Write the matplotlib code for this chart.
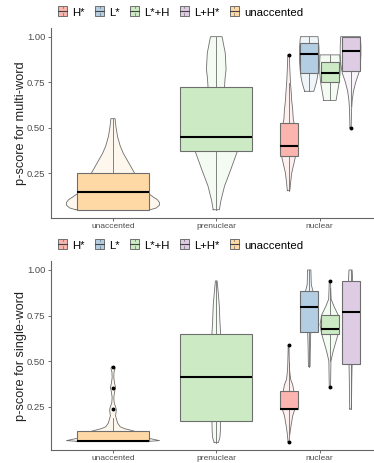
import matplotlib
matplotlib.use("Agg")
import matplotlib.pyplot as plt
from matplotlib.legend_handler import HandlerBase
from matplotlib.patches import Rectangle
from matplotlib.lines import Line2D
import numpy as np

plt.rcParams['font.family'] = ['Liberation Sans', 'DejaVu Sans']

# accent groups and their fills (pastel palette)
groups = ["H*", "L*", "L*+H", "L+H*", "unaccented"]
colors = ["#FBB4AE", "#B3CDE3", "#CCEBC5", "#DECBE4", "#FED9A6"]
categories = ["unaccented", "prenuclear", "nuclear"]
yticks = [0.25, 0.50, 0.75, 1.00]

# ---- multi-word panel ----
multi_cat = ["unaccented", "prenuclear", "nuclear", "nuclear", "nuclear", "nuclear"]
multi_grp = ["unaccented", "L*+H", "H*", "L*", "L*+H", "L+H*"]
multi_q1 = [0.05, 0.375, 0.345, 0.802, 0.753, 0.813]
multi_med = [0.15, 0.452, 0.400, 0.903, 0.802, 0.923]
multi_q3 = [0.25, 0.725, 0.524, 0.963, 0.860, 1.000]
multi_wlo = [0.05, 0.05, 0.155, 0.70, 0.65, 0.62]
multi_whi = [0.55, 1.00, 0.745, 1.00, 0.90, 1.00]
multi_fliers = [[], [], [0.90], [], [], [0.50]]
multi_vio_y = [
    [0.05, 0.06, 0.075, 0.09, 0.105, 0.12, 0.14, 0.16, 0.19, 0.22, 0.25, 0.28, 0.32, 0.36, 0.40, 0.45, 0.50, 0.55],
    [0.05, 0.10, 0.18, 0.27, 0.38, 0.45, 0.55, 0.65, 0.725, 0.77, 0.82, 0.91, 1.00],
    [0.155, 0.20, 0.25, 0.30, 0.35, 0.40, 0.45, 0.50, 0.55, 0.60, 0.65, 0.70, 0.75, 0.80, 0.85, 0.90],
    [0.70, 0.72, 0.75, 0.78, 0.82, 0.86, 0.90, 0.94, 0.97, 1.00],
    [0.65, 0.70, 0.75, 0.80, 0.85, 0.90],
    [0.50, 0.55, 0.60, 0.65, 0.70, 0.75, 0.80, 0.85, 0.90, 0.95, 1.00],
]
multi_vio_w = [
    [0.36, 0.42, 0.45, 0.45, 0.43, 0.39, 0.34, 0.30, 0.26, 0.23, 0.21, 0.18, 0.14, 0.10, 0.07, 0.045, 0.03, 0.02],
    [0.03, 0.045, 0.08, 0.14, 0.21, 0.24, 0.20, 0.13, 0.08, 0.085, 0.095, 0.087, 0.056],
    [0.012, 0.02, 0.03, 0.05, 0.07, 0.08, 0.075, 0.06, 0.045, 0.04, 0.03, 0.025, 0.018, 0.014, 0.01, 0.008],
    [0.044, 0.055, 0.07, 0.08, 0.088, 0.093, 0.095, 0.094, 0.09, 0.085],
    [0.06, 0.075, 0.09, 0.098, 0.10, 0.095],
    [0.006, 0.008, 0.01, 0.016, 0.028, 0.05, 0.08, 0.095, 0.10, 0.10, 0.095],
]

# ---- single-word panel ----
single_cat = ["unaccented", "prenuclear", "nuclear", "nuclear", "nuclear", "nuclear"]
single_grp = ["unaccented", "L*+H", "H*", "L*", "L*+H", "L+H*"]
single_q1 = [0.06, 0.173, 0.235, 0.661, 0.649, 0.484]
single_med = [0.06, 0.415, 0.235, 0.799, 0.676, 0.768]
single_q3 = [0.115, 0.649, 0.338, 0.886, 0.753, 0.941]
single_wlo = [0.06, 0.053, 0.10, 0.47, 0.50, 0.237]
single_whi = [0.19, 0.941, 0.49, 1.00, 0.90, 1.00]
single_fliers = [[0.235, 0.355, 0.47], [], [0.056, 0.588], [], [0.356, 0.941], []]
single_vio_y = [
    [0.06, 0.064, 0.07, 0.08, 0.095, 0.115, 0.12, 0.13, 0.14, 0.16, 0.18, 0.20, 0.22, 0.235, 0.25, 0.27, 0.30, 0.33, 0.355, 0.38, 0.41, 0.44, 0.46, 0.47],
    [0.053, 0.08, 0.12, 0.17, 0.25, 0.35, 0.45, 0.55, 0.65, 0.72, 0.80, 0.87, 0.94],
    [0.056, 0.10, 0.15, 0.20, 0.235, 0.27, 0.30, 0.34, 0.37, 0.40, 0.45, 0.50, 0.55, 0.588],
    [0.47, 0.55, 0.60, 0.66, 0.70, 0.80, 0.886, 0.92, 0.96, 1.00],
    [0.356, 0.42, 0.50, 0.55, 0.60, 0.649, 0.70, 0.753, 0.80, 0.84, 0.90, 0.941],
    [0.237, 0.30, 0.40, 0.484, 0.60, 0.77, 0.94, 0.97, 1.00],
]
single_vio_w = [
    [0.35, 0.45, 0.40, 0.32, 0.26, 0.21, 0.18, 0.11, 0.07, 0.045, 0.035, 0.025, 0.03, 0.032, 0.025, 0.012, 0.008, 0.015, 0.025, 0.015, 0.008, 0.01, 0.02, 0.012],
    [0.02, 0.035, 0.04, 0.042, 0.05, 0.055, 0.055, 0.05, 0.042, 0.035, 0.03, 0.02, 0.008],
    [0.005, 0.012, 0.025, 0.04, 0.06, 0.055, 0.045, 0.05, 0.04, 0.02, 0.01, 0.007, 0.005, 0.004],
    [0.008, 0.01, 0.012, 0.015, 0.03, 0.04, 0.035, 0.02, 0.018, 0.016],
    [0.006, 0.008, 0.01, 0.03, 0.055, 0.08, 0.095, 0.08, 0.04, 0.012, 0.008, 0.006],
    [0.008, 0.01, 0.012, 0.015, 0.02, 0.03, 0.02, 0.018, 0.015],
]

EDGE = "#6E6E6E"


class HandlerKey(HandlerBase):
    def create_artists(self, legend, orig, xd, yd, w, h, fs, trans):
        c = orig.get_facecolor()
        r = Rectangle((xd + 1, yd), w - 2, h, facecolor=c, edgecolor=EDGE, lw=0.7, transform=trans)
        m = Line2D([xd + 1, xd + w - 1], [yd + h / 2] * 2, color="#444444", lw=0.8, transform=trans)
        v1 = Line2D([xd + w / 2] * 2, [yd, yd + h * 0.25], color=EDGE, lw=0.5, transform=trans)
        v2 = Line2D([xd + w / 2] * 2, [yd + h * 0.75, yd + h], color=EDGE, lw=0.5, transform=trans)
        return [r, m, v1, v2]


def draw_panel(ax, cat, grp, q1, med, q3, wlo, whi, fliers, vy, vw, ylim, ylabel):
    nuc = [g for g in groups if g != "unaccented"]
    for i in range(len(cat)):
        base = categories.index(cat[i]) + 1
        if cat[i] == "nuclear":
            pos = base - 0.3 + 0.2 * nuc.index(grp[i])
            bw = 0.175
        else:
            pos = base
            bw = 0.7
        col = colors[groups.index(grp[i])]
        y = np.array(vy[i])
        w = np.array(vw[i])
        ax.fill_betweenx(y, pos - w, pos + w, facecolor=col, alpha=0.2, lw=0, zorder=1)
        ax.plot(np.r_[pos - w, (pos + w)[::-1], pos - w[0]], np.r_[y, y[::-1], y[0]],
                color=EDGE, lw=0.6, zorder=2)
        stats = [dict(q1=q1[i], med=med[i], q3=q3[i], whislo=wlo[i], whishi=whi[i], fliers=fliers[i])]
        ax.bxp(stats, positions=[pos], widths=bw, patch_artist=True, showcaps=False,
               boxprops=dict(facecolor=col, edgecolor=EDGE, lw=0.8),
               medianprops=dict(color="black", lw=1.5),
               whiskerprops=dict(color=EDGE, lw=0.6),
               flierprops=dict(marker="o", markersize=1.8, markerfacecolor="black",
                               markeredgecolor="black"),
               manage_ticks=False, zorder=3)
    ax.set_xlim(0.4, 3.527)
    ax.set_ylim(*ylim)
    ax.set_xticks([1, 2, 3])
    ax.set_xticklabels(categories, fontsize=6.0, color="#4D4D4D")
    ax.set_yticks(yticks)
    ax.set_yticklabels([f"{t:.2f}" for t in yticks], fontsize=6.8, color="#4D4D4D")
    ax.tick_params(length=2.5, width=0.6, color="#555555", pad=1.5)
    ax.tick_params(axis="x", pad=0.8)
    for s in ["top", "right"]:
        ax.spines[s].set_visible(False)
    for s in ["left", "bottom"]:
        ax.spines[s].set_color("#666666")
        ax.spines[s].set_linewidth(0.8)
    ax.set_ylabel(ylabel, fontsize=9.2, color="#222222")
    ax.yaxis.set_label_coords(-0.075, 0.5)


fig = plt.figure(figsize=(3.74, 4.63), dpi=100)
ax1 = fig.add_axes([51 / 374, 1 - 218.4 / 463, 323 / 374, 190.4 / 463])
ax2 = fig.add_axes([51 / 374, 1 - 450 / 463, 323 / 374, 188.6 / 463])

draw_panel(ax1, multi_cat, multi_grp, multi_q1, multi_med, multi_q3, multi_wlo, multi_whi,
           multi_fliers, multi_vio_y, multi_vio_w, (0.0025, 1.0475), "p-score for multi-word")
draw_panel(ax2, single_cat, single_grp, single_q1, single_med, single_q3, single_wlo, single_whi,
           single_fliers, single_vio_y, single_vio_w, (0.0125, 1.047), "p-score for single-word")

handles = [Rectangle((0, 0), 1, 1, facecolor=c) for c in colors]
for yc in [1 - 13 / 463, 1 - 246 / 463]:
    fig.legend(handles, groups, loc="center", bbox_to_anchor=(180 / 374, yc), ncol=5,
               frameon=False, fontsize=8.2, handler_map={Rectangle: HandlerKey()},
               handlelength=1.0, handleheight=0.9, handletextpad=0.35, columnspacing=0.8,
               borderpad=0)

fig.savefig("out.png", dpi=100)
